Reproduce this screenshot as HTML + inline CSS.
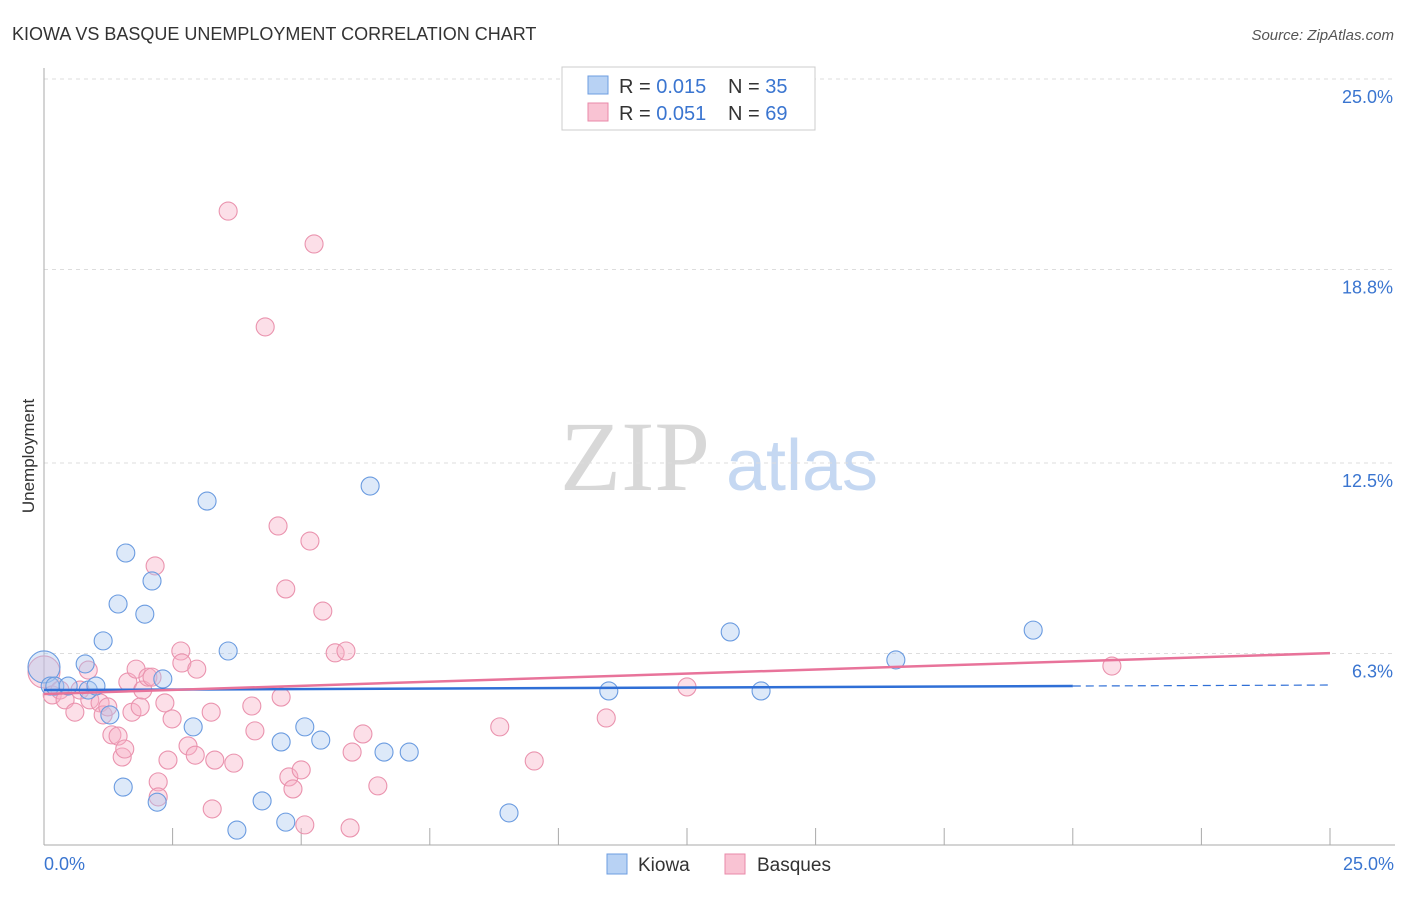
<!DOCTYPE html>
<html><head><meta charset="utf-8"><style>
body{margin:0;background:#fff;font-family:"Liberation Sans",sans-serif;}
</style></head><body>
<svg id="chart" width="1406" height="892" font-family="Liberation Sans, sans-serif">
<text x="12" y="40" font-size="18" fill="#333">KIOWA VS BASQUE UNEMPLOYMENT CORRELATION CHART</text>
<text x="1394" y="40" font-size="15" fill="#555" font-style="italic" text-anchor="end">Source: ZipAtlas.com</text>
<text x="34" y="456" font-size="17" fill="#333" text-anchor="middle" transform="rotate(-90 34 456)">Unemployment</text>
<g>
<text x="635" y="490" font-size="100" style="font-family:'Liberation Serif',serif" fill="#d8d8d8" text-anchor="middle">ZIP</text>
<text x="802" y="490" font-size="72" fill="#c5d8f2" text-anchor="middle">atlas</text>
</g>
<g id="grid"></g><g id="marks"></g>
<g>
<rect x="562" y="67" width="253" height="63" fill="#fff" stroke="#ccc"/>
<rect x="588" y="76" width="20" height="18" fill="#b8d2f4" stroke="#6d9de0"/>
<text x="619" y="93" font-size="20" fill="#333">R = <tspan fill="#3a75d0">0.015</tspan></text>
<text x="728" y="93" font-size="20" fill="#333">N = <tspan fill="#3a75d0">35</tspan></text>
<rect x="588" y="103" width="20" height="18" fill="#f9c3d3" stroke="#e98aa8"/>
<text x="619" y="120" font-size="20" fill="#333">R = <tspan fill="#3a75d0">0.051</tspan></text>
<text x="728" y="120" font-size="20" fill="#333">N = <tspan fill="#3a75d0">69</tspan></text>
</g>
<g>
<rect x="607" y="854" width="20" height="20" fill="#b8d2f4" stroke="#6d9de0"/>
<text x="638" y="871" font-size="19" fill="#333">Kiowa</text>
<rect x="725" y="854" width="20" height="20" fill="#f9c3d3" stroke="#e98aa8"/>
<text x="757" y="871" font-size="19" fill="#333">Basques</text>
</g>
</svg>
<script>
const yTicks=[25.0,18.8,12.5,6.3];
const yTickLabels=["25.0%","18.8%","12.5%","6.3%"];
const xTickValues=[0,2.5,5,7.5,10,12.5,15,17.5,20,22.5,25];
const xEndLabels=["0.0%","25.0%"];
const kiowaX=[0,0.12,0.21,0.47,0.80,0.86,1.01,1.15,1.28,1.44,1.54,1.59,1.96,2.10,2.20,2.31,2.90,3.17,3.58,3.75,4.24,4.61,4.70,5.07,5.38,6.34,6.61,7.10,9.04,10.98,13.34,13.94,16.56,19.23];
const kiowaY=[5.86,5.24,5.24,5.24,5.96,5.11,5.24,6.71,4.30,7.91,1.95,9.57,7.58,8.66,1.46,5.47,3.91,11.26,6.38,0.55,1.50,3.42,0.81,3.91,3.48,11.75,3.09,3.09,1.11,5.08,7.00,5.08,6.09,7.06];
const basquesX=[0,0.16,0.31,0.41,0.60,0.70,0.86,0.89,1.09,1.15,1.24,1.32,1.44,1.52,1.57,1.63,1.71,1.79,1.87,1.92,2.02,2.10,2.16,2.22,2.22,2.35,2.41,2.49,2.66,2.68,2.80,2.94,2.97,3.25,3.27,3.32,3.58,3.69,4.04,4.10,4.30,4.55,4.61,4.70,4.76,4.84,5.00,5.07,5.17,5.25,5.42,5.66,5.87,5.95,5.99,6.20,6.49,8.86,9.53,10.93,12.50,20.76];
const basquesY=[5.70,4.95,5.11,4.79,4.39,5.11,5.76,4.79,4.69,4.30,4.56,3.65,3.61,2.93,3.19,5.37,4.39,5.79,4.56,5.11,5.53,5.53,9.15,2.12,1.63,4.69,2.83,4.17,6.38,5.99,3.29,2.99,5.79,4.39,1.24,2.83,20.70,2.73,4.59,3.78,16.93,10.45,4.88,8.40,2.28,1.89,2.51,0.72,9.96,19.63,7.68,6.32,6.38,0.62,3.09,3.68,1.99,3.91,2.80,4.20,5.21,5.89];
const kiowaTrend=[5.11,5.24]; // at x=0 and x=20
const basquesTrend=[4.98,6.31]; // at x=0 and x=25
const NS="http://www.w3.org/2000/svg";
const X=v=>44+v*51.44, Y=v=>847-v*30.72;
function mk(t,a,p){const e=document.createElementNS(NS,t);for(const k in a)e.setAttribute(k,a[k]);p.appendChild(e);return e;}
const g=document.getElementById('grid'), m=document.getElementById('marks');
yTicks.forEach((v,i)=>{
 const l=mk('line',{x1:44,x2:1395,y1:Y(v),y2:Y(v),stroke:'#ddd','stroke-dasharray':'4,4'},g);
 
 
 const t=mk('text',{x:1393,y:Y(v)+24,'font-size':18,fill:'#3a75d0','text-anchor':'end'},g);
 t.textContent=yTickLabels[i];
 
 
});
const ax=mk('line',{x1:44,x2:44,y1:68,y2:845,stroke:'#aaa'},g);


const bx=mk('line',{x1:44,x2:1395,y1:845,y2:845,stroke:'#aaa'},g);


xTickValues.forEach(v=>{
 const l=mk('line',{x1:X(v),x2:X(v),y1:828,y2:845,stroke:'#aaa'},g);
 
 
});
[[0,'start',44],[25,'end',1394]].forEach((d,i)=>{
 const t=mk('text',{x:d[2],y:870,'font-size':18,fill:'#3a75d0','text-anchor':d[1]},g);
 t.textContent=xEndLabels[i];
 
 
});
function pts(xs,ys,fill,stroke,name){
 xs.forEach((x,i)=>{
  const r=(i===0)?16:9;
  const c=mk('circle',{cx:X(x),cy:Y(ys[i]),r:r,fill:fill,'fill-opacity':0.4,stroke:stroke,'stroke-width':1.1},m);
  
  
 });
}
pts(basquesX,basquesY,'#f7b0c6','#ea93ae','basques-point');
pts(kiowaX,kiowaY,'#a9c8f0','#6a9be0','kiowa-point');
const kt=mk('line',{x1:X(0),y1:Y(kiowaTrend[0]),x2:X(20),y2:Y(kiowaTrend[1]),stroke:'#2f6fd6','stroke-width':2.5},m);


const slope=(kiowaTrend[1]-kiowaTrend[0])/20;
const kd=mk('line',{x1:X(20),y1:Y(kiowaTrend[1]),x2:X(25),y2:Y(kiowaTrend[1]+slope*5),stroke:'#2f6fd6','stroke-width':1.2,'stroke-dasharray':'8,5'},m);


const bt=mk('line',{x1:X(0),y1:Y(basquesTrend[0]),x2:X(25),y2:Y(basquesTrend[1]),stroke:'#e8739a','stroke-width':2.5},m);


</script>
</body></html>
